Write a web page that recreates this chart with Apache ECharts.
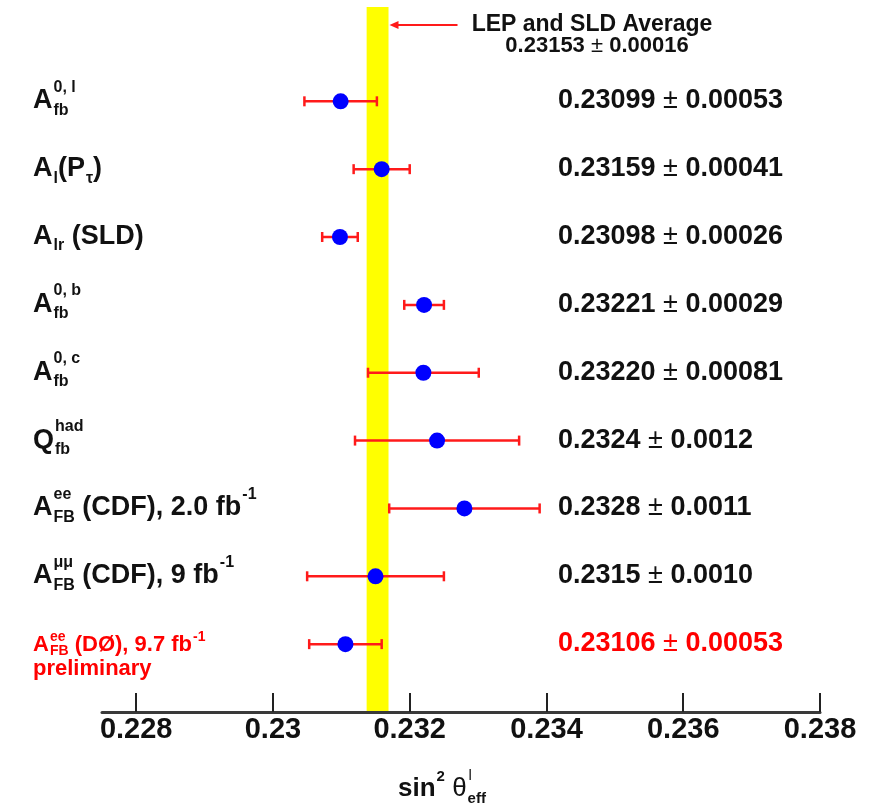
<!DOCTYPE html>
<html><head><meta charset="utf-8">
<script src="https://cdn.jsdelivr.net/npm/echarts@6/dist/echarts.min.js"></script>
<style>html,body{margin:0;padding:0;background:#fff}#c{width:883px;height:811px}</style>
</head><body><div id="c"></div>
<script>
// ---- data ----
const rowLabels = ["A_{fb}^{0, l}", "A_{l}(P_{τ})", "A_{lr} (SLD)", "A_{fb}^{0, b}", "A_{fb}^{0, c}", "Q_{fb}^{had}", "A_{FB}^{ee} (CDF), 2.0 fb^{-1}", "A_{FB}^{μμ} (CDF), 9 fb^{-1}", "A_{FB}^{ee} (DØ), 9.7 fb^{-1}"];
const rowNotes = ["", "", "", "", "", "", "", "", "preliminary"];
const values = [0.23099, 0.23159, 0.23098, 0.23221, 0.23220, 0.2324, 0.2328, 0.2315, 0.23106];
const errors = [0.00053, 0.00041, 0.00026, 0.00029, 0.00081, 0.0012, 0.0011, 0.0010, 0.00053];
const valueTexts = ["0.23099", "0.23159", "0.23098", "0.23221", "0.23220", "0.2324", "0.2328", "0.2315", "0.23106"];
const errorTexts = ["0.00053", "0.00041", "0.00026", "0.00029", "0.00081", "0.0012", "0.0011", "0.0010", "0.00053"];
const highlighted = [false, false, false, false, false, false, false, false, true];
const averageValue = 0.23153;
const averageError = 0.00016;
const averageTitle = "LEP and SLD Average";
const averageValueText = "0.23153";
const averageErrorText = "0.00016";
const xTicks = [0.228, 0.23, 0.232, 0.234, 0.236, 0.238];
const axisTitle = "sin^{2} ";
const axisTitleSymbol = "θ";
const axisTitleSub = "eff";
const axisTitleSup = "l";

// ---- layout helpers ----
const FAM = '"Liberation Sans", Arial, Helvetica, sans-serif';
const ROW_MIN = -1.39, ROW_MAX = 9;
const mctx = document.createElement('canvas').getContext('2d');
function tw(text, size, weight) { mctx.font = (weight || 'bold') + ' ' + size + 'px ' + FAM; return mctx.measureText(text).width; }
function txt(x, y, text, size, color, weight, align) {
  return { type: 'text', x: x, y: y, style: { text: text, fontSize: size, fontWeight: weight || 'bold', fontFamily: FAM, fill: color, align: align || 'left', verticalAlign: 'middle' } };
}
function parseLabel(s) {
  const parts = []; let i = 0, buf = '';
  while (i < s.length) {
    const c = s[i];
    if ((c === '_' || c === '^') && s[i + 1] === '{') {
      if (buf) { parts.push({ t: buf, k: 'n' }); buf = ''; }
      const j = s.indexOf('}', i);
      parts.push({ t: s.slice(i + 2, j), k: c === '_' ? 'sub' : 'sup' });
      i = j + 1;
    } else { buf += c; i++; }
  }
  if (buf) parts.push({ t: buf, k: 'n' });
  return parts;
}
function layoutLabel(s, x0, yc, sz, color) {
  const p = parseLabel(s);
  const out = []; let x = x0;
  for (let i = 0; i < p.length; i++) {
    const a = p[i];
    if (a.k === 'n') {
      out.push(txt(x, yc, a.t, sz.main, color));
      x += tw(a.t, sz.main);
    } else {
      const grp = [a];
      if (i + 1 < p.length && p[i + 1].k !== 'n' && p[i + 1].k !== a.k) { grp.push(p[i + 1]); i++; }
      let w = 0;
      grp.forEach(g => {
        const dy = g.k === 'sub' ? sz.subDy : sz.supDy;
        out.push(txt(x + 1, yc + dy, g.t, sz.small, color));
        w = Math.max(w, tw(g.t, sz.small) + 1);
      });
      x += w;
    }
  }
  out.endX = x;
  return out;
}
function pmText(x, y, a, b, size, color, center) {
  const w1 = tw(a, size), w2 = tw(' ± ', size, 'normal'), w3 = tw(b, size);
  let x0 = center ? x - (w1 + w2 + w3) / 2 : x;
  return [txt(x0, y, a, size, color), txt(x0 + w1, y, ' ± ', size, color, 'normal'), txt(x0 + w1 + w2, y, b, size, color)];
}

const rowData = values.map((v, i) => [v, i, errors[i]]);

// axis title pieces
const titleParts = layoutLabel(axisTitle, 398, 789, { main: 26, small: 15, subDy: 10, supDy: -12 }, '#111111');
const thX = titleParts.endX;
const thW = tw(axisTitleSymbol, 26, 'normal');
titleParts.push(txt(thX, 789, axisTitleSymbol, 26, '#111111', 'normal'));
titleParts.push(txt(thX + thW + 1, 799, axisTitleSub, 15, '#111111'));
titleParts.push(txt(thX + thW + 2, 776, axisTitleSup, 15, '#111111', 'normal'));

const chart = echarts.init(document.getElementById('c'), null, { renderer: 'canvas' });
chart.setOption({
  backgroundColor: '#ffffff',
  animation: false,
  grid: { left: 102, right: 63, top: 7, bottom: 99, outerBoundsMode: 'none' },
  xAxis: {
    type: 'value', min: 0.2275, max: 0.238,
    splitLine: { show: false },
    axisLine: { show: true, onZero: false, lineStyle: { color: '#3a3a3a', width: 3 } },
    axisTick: { show: true, inside: true, length: 19, customValues: xTicks, lineStyle: { color: '#222', width: 2 } },
    axisLabel: { customValues: xTicks, formatter: v => String(+(+v).toFixed(4)), fontSize: 29, fontWeight: 'bold', color: '#111', fontFamily: FAM, margin: 3 }
  },
  yAxis: { type: 'value', inverse: true, min: ROW_MIN, max: ROW_MAX, show: false },
  series: [
    {
      type: 'custom', z: 1, silent: true,
      data: [[averageValue, averageError]],
      renderItem(params, api) {
        const v = api.value(0), e = api.value(1);
        const tl = api.coord([v - e, ROW_MIN]);
        const br = api.coord([v + e, ROW_MAX]);
        const ay = 25;
        const ax = br[0] + 1;
        return { type: 'group', children: [
          { type: 'rect', shape: { x: tl[0], y: tl[1], width: br[0] - tl[0], height: br[1] - tl[1] - 1 }, style: { fill: '#ffff00' } },
          { type: 'line', shape: { x1: ax + 4, y1: ay, x2: ax + 68, y2: ay }, style: { stroke: '#ff1a1a', lineWidth: 2 } },
          { type: 'polygon', shape: { points: [[ax, ay], [ax + 9, ay - 4], [ax + 9, ay + 4]] }, style: { fill: '#ff1a1a' } },
          txt(592, ay, averageTitle, 23, '#111111', 'bold', 'center')
        ].concat(pmText(597, 46, averageValueText, averageErrorText, 22, '#111111', true)) };
      }
    },
    {
      type: 'custom', z: 2, silent: true,
      data: rowData,
      renderItem(params, api) {
        const v = api.value(0), r = api.value(1), e = api.value(2);
        const lo = api.coord([v - e, r]), hi = api.coord([v + e, r]);
        const h = 5, st = { stroke: '#ff1a1a', lineWidth: 2.5 };
        return { type: 'group', children: [
          { type: 'line', shape: { x1: lo[0], y1: lo[1], x2: hi[0], y2: hi[1] }, style: st },
          { type: 'line', shape: { x1: lo[0], y1: lo[1] - h, x2: lo[0], y2: lo[1] + h }, style: st },
          { type: 'line', shape: { x1: hi[0], y1: hi[1] - h, x2: hi[0], y2: hi[1] + h }, style: st }
        ] };
      }
    },
    {
      type: 'scatter', z: 3, silent: true,
      data: values.map((v, i) => [v, i]),
      symbol: 'circle', symbolSize: 16,
      itemStyle: { color: '#0000ff', opacity: 1 }
    },
    {
      type: 'custom', z: 4, silent: true,
      data: rowData,
      renderItem(params, api) {
        const i = params.dataIndex;
        const y = api.coord([api.value(0), api.value(1)])[1];
        const red = highlighted[i];
        const color = red ? '#ff0000' : '#111111';
        let children;
        if (red) {
          children = layoutLabel(rowLabels[i], 33, y + 1, { main: 22, small: 14, subDy: 6, supDy: -8 }, color);
          if (rowNotes[i]) children.push(txt(33, y + 24.5, rowNotes[i], 22, color));
        } else {
          children = layoutLabel(rowLabels[i], 33, y - 0.5, { main: 27, small: 16, subDy: 9.5, supDy: -13.5 }, color);
          if (rowNotes[i]) children.push(txt(33, y + 24, rowNotes[i], 22, color));
        }
        children = children.concat(pmText(558, y - 0.5, valueTexts[i], errorTexts[i], 27, color, false));
        return { type: 'group', children };
      }
    }
  ],
  graphic: [{ type: 'group', children: titleParts }]
});
</script></body></html>
